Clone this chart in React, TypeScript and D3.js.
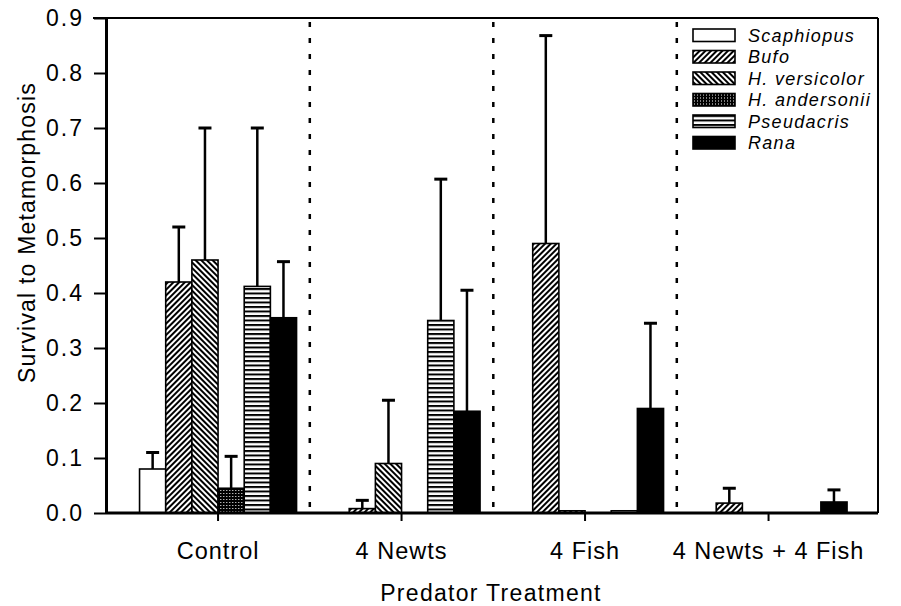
import React, { useRef, useEffect } from "react";
import * as d3 from "d3";

// predator treatments and species
const groups = ["Control", "4 Newts", "4 Fish", "4 Newts + 4 Fish"];
const species = ["Scaphiopus", "Bufo", "H. versicolor", "H. andersonii", "Pseudacris", "Rana"];

// mean survival per treatment (same order as groups)
const meanScaphiopus = [0.08, 0, 0, 0];
const meanBufo = [0.42, 0.008, 0.49, 0.018];
const meanVersicolor = [0.46, 0.09, 0.004, 0];
const meanAndersonii = [0.045, 0, 0, 0];
const meanPseudacris = [0.412, 0.35, 0.004, 0];
const meanRana = [0.355, 0.185, 0.19, 0.02];

// upper error bar (1 SE)
const seScaphiopus = [0.03, 0, 0, 0];
const seBufo = [0.1, 0.015, 0.378, 0.027];
const seVersicolor = [0.24, 0.115, 0, 0];
const seAndersonii = [0.058, 0, 0, 0];
const sePseudacris = [0.288, 0.257, 0, 0];
const seRana = [0.102, 0.22, 0.155, 0.022];

const yTicks = [0, 0.1, 0.2, 0.3, 0.4, 0.5, 0.6, 0.7, 0.8, 0.9];

const means = [meanScaphiopus, meanBufo, meanVersicolor, meanAndersonii, meanPseudacris, meanRana];
const errs = [seScaphiopus, seBufo, seVersicolor, seAndersonii, sePseudacris, seRana];
const fills = ["#fff", "url(#pBufo)", "url(#pVers)", "url(#pAnd)", "url(#pPseud)", "#000"];

const W = 901;
const H = 606;
const left = 106;
const right = 878;
const top = 18;
const bottom = 513;
const FONT = "'Liberation Sans', Arial, Helvetica, sans-serif";

export default function App() {
  const yAxisRef = useRef<SVGGElement | null>(null);
  const xAxisRef = useRef<SVGGElement | null>(null);

  const y = d3.scaleLinear().domain([0, 0.9]).range([bottom, top]);
  const x0 = d3.scaleBand<string>().domain(groups).range([126.3, 860.3]).padding(0);
  const x1 = d3
    .scaleBand<string>()
    .domain(species)
    .range([x0.bandwidth() / 2 - 78.5, x0.bandwidth() / 2 + 78.5])
    .padding(0);

  useEffect(() => {
    const ya = d3.select(yAxisRef.current);
    ya.selectAll("*").remove();
    ya.call(
      d3
        .axisLeft(y)
        .tickValues(yTicks)
        .tickSize(12)
        .tickSizeOuter(0)
        .tickPadding(10)
        .tickFormat(d3.format(".1f") as any)
    );
    ya.select(".domain").attr("stroke-width", 3);
    ya.selectAll(".tick line").attr("stroke-width", 2);
    ya.selectAll(".tick text")
      .attr("font-family", FONT)
      .attr("font-size", 23)
      .attr("letter-spacing", 2)
      .attr("fill", "#000");
    ya.attr("font-family", null).attr("font-size", null);

    const xa = d3.select(xAxisRef.current);
    xa.selectAll("*").remove();
    xa.call(d3.axisBottom(x0).tickSize(8).tickSizeOuter(0).tickPadding(21));
    xa.select(".domain").remove();
    xa.selectAll(".tick line").attr("stroke-width", 2);
    xa.selectAll(".tick text")
      .attr("font-family", FONT)
      .attr("font-size", 23.5)
      .attr("letter-spacing", 1)
      .attr("fill", "#000");
    xa.attr("font-family", null).attr("font-size", null);
  }, []);

  const dividers = groups.slice(1).map((g) => x0(g) as number);
  const capW = 13;

  return (
    <svg
      width={W}
      height={H}
      style={{ position: "absolute", left: 0, top: 0, background: "#fff" }}
    >
      <defs>
        <pattern id="pBufo" width="4" height="8" patternUnits="userSpaceOnUse" patternTransform="rotate(45)">
          <rect width="4" height="8" fill="#fff" />
          <line x1="1" y1="0" x2="1" y2="8" stroke="#000" strokeWidth="2" />
        </pattern>
        <pattern id="pVers" width="4" height="8" patternUnits="userSpaceOnUse" patternTransform="rotate(-45)">
          <rect width="4" height="8" fill="#fff" />
          <line x1="1" y1="0" x2="1" y2="8" stroke="#000" strokeWidth="2" />
        </pattern>
        <pattern id="pAnd" width="3" height="3" patternUnits="userSpaceOnUse">
          <rect width="3" height="3" fill="#000" />
          <rect x="1" y="1" width="1" height="1" fill="#fff" />
        </pattern>
        <pattern id="pPseud" width="8" height="4.5" patternUnits="userSpaceOnUse">
          <rect width="8" height="4.5" fill="#fff" />
          <rect y="0" width="8" height="2" fill="#000" />
        </pattern>
      </defs>

      {/* frame */}
      <line x1={93} x2={right} y1={top} y2={top} stroke="#000" strokeWidth={2} />
      <line x1={right} x2={right} y1={top} y2={bottom} stroke="#000" strokeWidth={2} />

      {/* treatment dividers */}
      {dividers.map((d, i) => (
        <line
          key={i}
          x1={d}
          x2={d}
          y1={top + 4}
          y2={bottom}
          stroke="#000"
          strokeWidth={2.5}
          strokeDasharray="5,11"
        />
      ))}

      {/* bars */}
      {groups.map((g, gi) => (
        <g key={g} transform={`translate(${x0(g)},0)`}>
          {species.map((s, si) => {
            const v = means[si][gi];
            if (v <= 0) return null;
            const bx = x1(s) as number;
            const bw = x1.bandwidth();
            const e = errs[si][gi];
            const cx = bx + bw / 2;
            return (
              <g key={s}>
                <rect
                  x={bx}
                  y={y(v)}
                  width={bw}
                  height={bottom - y(v)}
                  fill={fills[si]}
                  stroke="#000"
                  strokeWidth={1.6}
                />
                {e > 0 && (
                  <g stroke="#000">
                    <line x1={cx} x2={cx} y1={y(v)} y2={y(v + e)} strokeWidth={2.5} />
                    <line x1={cx - capW / 2} x2={cx + capW / 2} y1={y(v + e)} y2={y(v + e)} strokeWidth={3} />
                  </g>
                )}
              </g>
            );
          })}
        </g>
      ))}

      {/* axes */}
      <g ref={xAxisRef} transform={`translate(0,${bottom})`} />
      <line x1={left} x2={right} y1={bottom} y2={bottom} stroke="#000" strokeWidth={3} />
      <g ref={yAxisRef} transform={`translate(${left},0)`} />

      {/* axis titles */}
      <text
        x={491}
        y={601}
        textAnchor="middle"
        fontFamily={FONT}
        fontSize={23}
        letterSpacing={1.3}
      >
        Predator Treatment
      </text>
      <text
        transform={`translate(35,${(top + bottom) / 2 - 33}) rotate(-90)`}
        textAnchor="middle"
        fontFamily={FONT}
        fontSize={23}
        letterSpacing={1.2}
      >
        Survival to Metamorphosis
      </text>

      {/* legend */}
      <g transform="translate(693,29)">
        {species.map((s, i) => (
          <g key={s} transform={`translate(0,${i * 21.5})`}>
            <rect width={42} height={12.5} fill={fills[i]} stroke="#000" strokeWidth={1.6} />
            <text
              x={55}
              y={12.5}
              fontFamily={FONT}
              fontSize={18}
              fontStyle="italic"
              letterSpacing={1.3}
            >
              {s}
            </text>
          </g>
        ))}
      </g>
    </svg>
  );
}
